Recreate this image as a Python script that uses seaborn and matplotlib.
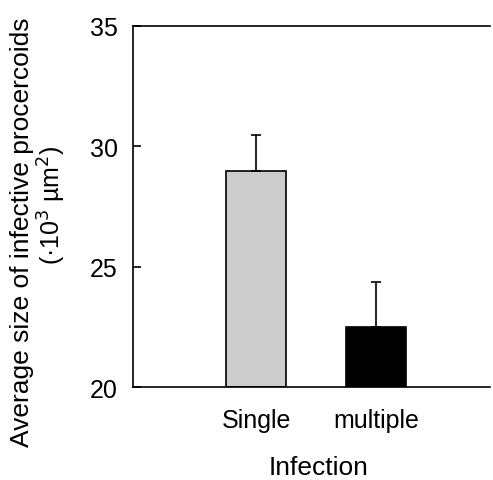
import matplotlib
matplotlib.use("Agg")
import matplotlib.pyplot as plt
import seaborn as sns
import pandas as pd

categories = ["Single", "multiple"]
means = [28.98, 22.5]
errors = [1.5, 1.87]
colors = ["#cccccc", "#000000"]
ytick_vals = [20, 25, 30, 35]

sns.set_theme(style="white")
plt.rcParams['font.family'] = ['Liberation Sans', 'DejaVu Sans']
plt.rcParams['text.color'] = 'black'
plt.rcParams['xtick.color'] = 'black'
plt.rcParams['ytick.color'] = 'black'
plt.rcParams['ytick.direction'] = 'in'

df = pd.DataFrame({"Infection": categories, "size": [m - 20 for m in means]})

fig = plt.figure(figsize=(4.93, 4.81), dpi=100)
ax = fig.add_axes([133/493, 1-388/481, (490-133)/493, (388-27)/481])

sns.barplot(data=df, x="Infection", y="size", hue="Infection", palette=colors,
            width=0.5, edgecolor="black", linewidth=1.2, ax=ax, legend=False,
            errorbar=None, saturation=1)
# shift bars so they start at the axis floor of 20
for p in ax.patches:
    p.set_y(20)
    p.set_zorder(2)
ax.errorbar(range(len(categories)), means, yerr=[[0, 0], errors], fmt="none",
            ecolor="black", elinewidth=1.2, capsize=3.5, capthick=1.2, zorder=3)

ax.set_ylim(20, 35)
ax.set_xlim(-1.03, 1.95)
ax.set_yticks(ytick_vals)
ax.set_yticklabels([str(v) for v in ytick_vals], fontsize=18)
ax.set_xticks([0, 1])
ax.set_xticklabels(categories, fontsize=18)
ax.tick_params(axis="y", direction="in", length=6, width=1.2, left=True, pad=11)
ax.tick_params(axis="x", length=0, pad=15)
for s in ["left", "top", "bottom"]:
    ax.spines[s].set_visible(True)
    ax.spines[s].set_linewidth(1.2)
    ax.spines[s].set_color("black")
ax.spines["right"].set_visible(False)

ax.set_xlabel("")
ax.set_ylabel("")
fig.text(319/493, 1-468/481, "Infection", fontsize=19, ha="center", va="center")
fig.text(22/493, 1-232/481, "Average size of infective procercoids", fontsize=19,
         rotation=90, ha="center", va="center")
fig.text(52/493, 1-205/481, "(\u00b710$^3$ \u00b5m$^2$)", fontsize=18,
         rotation=90, ha="center", va="center")

fig.savefig("out.png", dpi=100)
